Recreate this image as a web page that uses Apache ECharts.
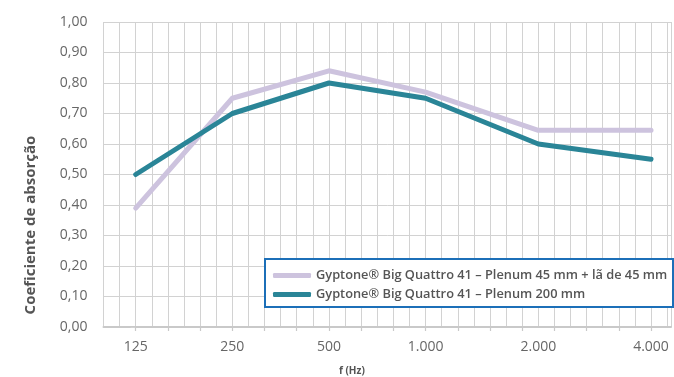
<!DOCTYPE html>
<html>
<head>
<meta charset="utf-8">
<script src="https://cdn.jsdelivr.net/npm/echarts@6/dist/echarts.min.js"></script>
<style>
html,body{margin:0;padding:0;background:#fff;}
#c{width:674px;height:377px;}
</style>
</head>
<body>
<div id="c"></div>
<script>
// Frequency categories (Hz) and their read-off slot positions on the axis (grid-line units)
var categories = ['125', '250', '500', '1.000', '2.000', '4.000'];
var xSlots = [0, 6, 12, 18, 25, 32];
var seriesNames = [
  'Gyptone\u00AE Big Quattro 41 \u2013 Plenum 45 mm + l\u00E3 de 45 mm',
  'Gyptone\u00AE Big Quattro 41 \u2013 Plenum 200 mm'
];
var valuesWool = [0.39, 0.75, 0.84, 0.77, 0.645, 0.645];
var valuesPlenum200 = [0.50, 0.70, 0.80, 0.75, 0.60, 0.55];
var yTicks = [0, 0.1, 0.2, 0.3, 0.4, 0.5, 0.6, 0.7, 0.8, 0.9, 1.0];

function pairs(vals) {
  return vals.map(function (v, i) { return [xSlots[i], v]; });
}

var chart = echarts.init(document.getElementById('c'), null, {renderer: 'canvas'});
var FONT = 'Open Sans';
var xMin = -2, xMax = 33.24;

chart.setOption({
  animation: false,
  backgroundColor: '#ffffff',
  grid: {left: 103.5, right: 0, top: 22, bottom: 50, containLabel: false},
  xAxis: [{
    type: 'value', min: xMin, max: xMax, interval: 1,
    axisLine: {show: true, lineStyle: {color: '#c9c9c9', width: 2}},
    axisTick: {show: false},
    splitLine: {show: true, lineStyle: {color: '#d2d2d2', width: 1}},
    axisLabel: {
      show: true, margin: 13, color: '#666', fontSize: 14, fontFamily: FONT,
      showMinLabel: true, showMaxLabel: true,
      formatter: function (v) {
        var i = xSlots.indexOf(Math.round(v * 1000) / 1000);
        return i >= 0 ? categories[i] : '';
      }
    }
  }, {
    type: 'value', min: xMin, max: xMax, interval: 2, position: 'bottom',
    axisLine: {show: false},
    axisTick: {show: true, length: 4, lineStyle: {color: '#c9c9c9', width: 1.2},
      customValues: [0, 2, 4, 6, 8, 10, 12, 14, 16, 18, 20, 22, 24, 26, 28, 30, 32]},
    splitLine: {show: false},
    axisLabel: {show: false}
  }],
  yAxis: {
    type: 'value', min: 0, max: 1, interval: 0.1,
    axisLine: {show: false},
    axisTick: {show: true, inside: false, length: 5, lineStyle: {color: '#d2d2d2', width: 1}},
    splitLine: {show: true, lineStyle: {color: '#d2d2d2', width: 1}},
    axisLabel: {
      margin: 16, color: '#666', fontSize: 14, fontFamily: FONT,
      formatter: function (v) { return v.toFixed(2).replace('.', ','); }
    }
  },
  legend: {
    orient: 'vertical', left: 268, top: 264, z: 10,
    itemWidth: 38, itemHeight: 5, itemGap: 6,
    icon: 'roundRect',
    textStyle: {color: '#555', fontSize: 12.8, fontFamily: FONT, fontWeight: 600},
    data: seriesNames
  },
  graphic: [
    {type: 'rect', z: 5, shape: {x: 265, y: 259, width: 408, height: 48},
      style: {fill: '#ffffff', stroke: '#1c6fb8', lineWidth: 2}},
    {type: 'text', z: 5, x: 31, y: 225, rotation: Math.PI / 2,
      style: {text: 'Coeficiente de absor\u00E7\u00E3o', fill: '#555', font: 'bold 15px "Open Sans"',
        align: 'center', verticalAlign: 'middle'}},
    {type: 'text', z: 5, left: 339, top: 366,
      style: {text: 'f (Hz)', fill: '#555', font: 'bold 10px "Open Sans"'}}
  ],
  series: [{
    name: seriesNames[0], type: 'line', data: pairs(valuesWool),
    symbol: 'none', color: '#cdc3de',
    lineStyle: {width: 5, color: '#cdc3de', cap: 'round', join: 'round'}
  }, {
    name: seriesNames[1], type: 'line', data: pairs(valuesPlenum200),
    symbol: 'none', color: '#2a8597',
    lineStyle: {width: 5, color: '#2a8597', cap: 'round', join: 'round'}
  }]
});
</script>
</body>
</html>
